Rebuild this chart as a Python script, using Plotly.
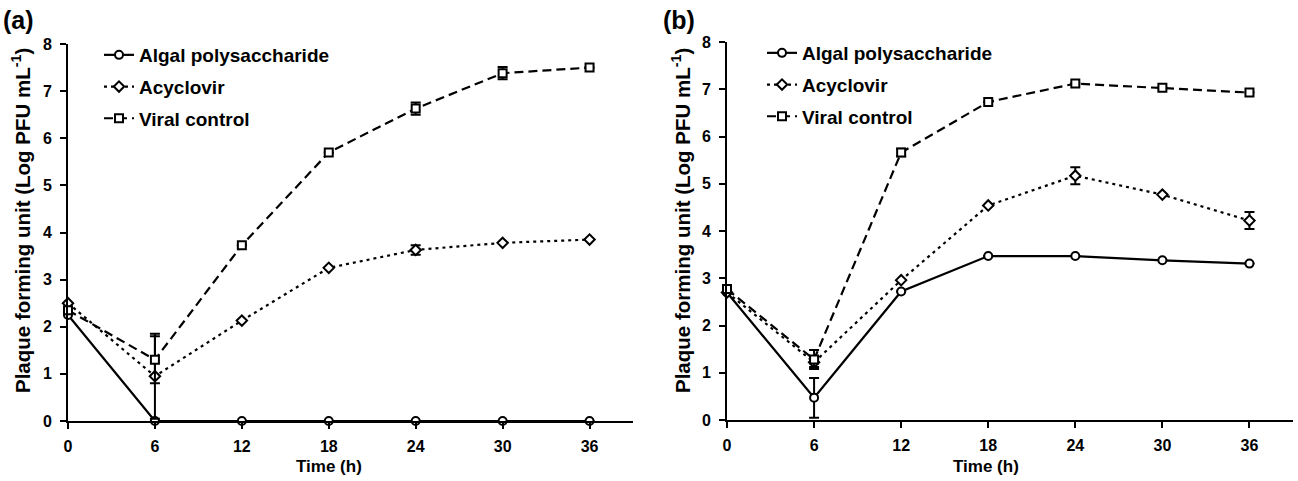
import plotly.graph_objects as go

time = [0, 6, 12, 18, 24, 30, 36]
x_ticks = [0, 6, 12, 18, 24, 30, 36]
y_ticks = [0, 1, 2, 3, 4, 5, 6, 7, 8]

series_names = ["Algal polysaccharide", "Acyclovir", "Viral control"]

a_algal = [2.25, 0, 0, 0, 0, 0, 0]
a_acy = [2.5, 0.95, 2.13, 3.25, 3.63, 3.78, 3.85]
a_viral = [2.35, 1.3, 3.73, 5.7, 6.63, 7.38, 7.5]
a_algal_err = [0, 0, 0, 0, 0, 0, 0]
a_acy_err = [0, 0.9, 0, 0, 0.1, 0, 0]
a_viral_err = [0, 0.5, 0, 0, 0.13, 0.13, 0]

b_algal = [2.7, 0.47, 2.72, 3.47, 3.47, 3.38, 3.31]
b_acy = [2.7, 1.22, 2.96, 4.54, 5.17, 4.77, 4.22]
b_viral = [2.77, 1.28, 5.66, 6.73, 7.12, 7.03, 6.93]
b_algal_err = [0, 0.42, 0, 0, 0, 0, 0]
b_acy_err = [0, 0.1, 0, 0, 0.18, 0, 0.18]
b_viral_err = [0, 0.2, 0.08, 0, 0, 0, 0]

FONT = "Liberation Sans"
styles = [
    dict(symbol="circle", dash="solid", size=8),
    dict(symbol="diamond", dash="3px,4px", size=8),
    dict(symbol="square", dash="9px,5px", size=8),
]

fig = go.Figure()

panels = [
    ("x", "y", "legend", "a", [a_algal, a_acy, a_viral], [a_algal_err, a_acy_err, a_viral_err]),
    ("x2", "y2", "legend2", "b", [b_algal, b_acy, b_viral], [b_algal_err, b_acy_err, b_viral_err]),
]
for xa, ya, leg, tag, vals, errs in panels:
    for i, (name, v, e, st) in enumerate(zip(series_names, vals, errs, styles)):
        fig.add_trace(go.Scatter(
            x=time, y=v, name=name, xaxis=xa, yaxis=ya, legend=leg,
            legendgroup=f"{tag}{i}",
            mode="lines+markers",
            line=dict(color="black", width=2.2, dash=st["dash"]),
            marker=dict(symbol=st["symbol"], size=st["size"], color="white",
                        line=dict(color="black", width=2)),
            error_y=dict(type="data", array=e, visible=True, color="black",
                         thickness=2, width=5),
            cliponaxis=False,
        ))

axis_common = dict(
    showgrid=False, zeroline=False, showline=True, linecolor="black", linewidth=2,
    ticks="outside", ticklen=6, tickwidth=2, tickcolor="black", automargin=False,
    tickfont=dict(family=FONT, size=16, color="black", weight="bold"),
)
xaxis_common = dict(ticklabelstandoff=4, **axis_common)
yaxis_common = dict(ticklabelstandoff=5, **axis_common)

legend_common = dict(
    xanchor="left", yanchor="top", bgcolor="rgba(0,0,0,0)",
    font=dict(family=FONT, size=19, color="black", weight="bold"),
    itemwidth=30, tracegroupgap=4,
)

fig.update_layout(
    width=1298, height=481,
    margin=dict(l=0, r=0, t=0, b=0, autoexpand=False),
    paper_bgcolor="white", plot_bgcolor="white",
    font=dict(family=FONT, color="black"),
    xaxis=dict(domain=[68/1298, 633/1298], range=[0, 39], tickvals=x_ticks, anchor="y", **xaxis_common),
    yaxis=dict(domain=[(481-421)/481, (481-44)/481], range=[0, 8], tickvals=y_ticks, anchor="x", **yaxis_common),
    xaxis2=dict(domain=[727/1298, 1293/1298], range=[0, 39], tickvals=x_ticks, anchor="y2", **xaxis_common),
    yaxis2=dict(domain=[(481-420)/481, (481-42)/481], range=[0, 8], tickvals=y_ticks, anchor="x2", **yaxis_common),
    legend=dict(x=99/1298, y=1 - 36/481, **legend_common),
    legend2=dict(x=762/1298, y=1 - 34/481, **legend_common),
    showlegend=True,
)

ytitle = "Plaque forming unit (Log PFU mL<sup>-1</sup>)"
annos = [
    dict(text="(a)", x=1/1298, y=1 - 20/481, xanchor="left", yanchor="middle", font=dict(size=25)),
    dict(text="(b)", x=661/1298, y=1 - 20/481, xanchor="left", yanchor="middle", font=dict(size=25)),
    dict(text="Time (h)", x=329/1298, y=1 - 466/481, xanchor="center", yanchor="middle", font=dict(size=17)),
    dict(text="Time (h)", x=986/1298, y=1 - 466/481, xanchor="center", yanchor="middle", font=dict(size=17)),
    dict(text=ytitle, x=21/1298, y=1 - 221/481, xanchor="center", yanchor="middle", textangle=-90, font=dict(size=20.5)),
    dict(text=ytitle, x=681/1298, y=1 - 221/481, xanchor="center", yanchor="middle", textangle=-90, font=dict(size=20.5)),
]
for an in annos:
    an["font"].update(family=FONT, color="black", weight="bold")
    fig.add_annotation(xref="paper", yref="paper", showarrow=False, **an)

fig.write_html("out.html")
